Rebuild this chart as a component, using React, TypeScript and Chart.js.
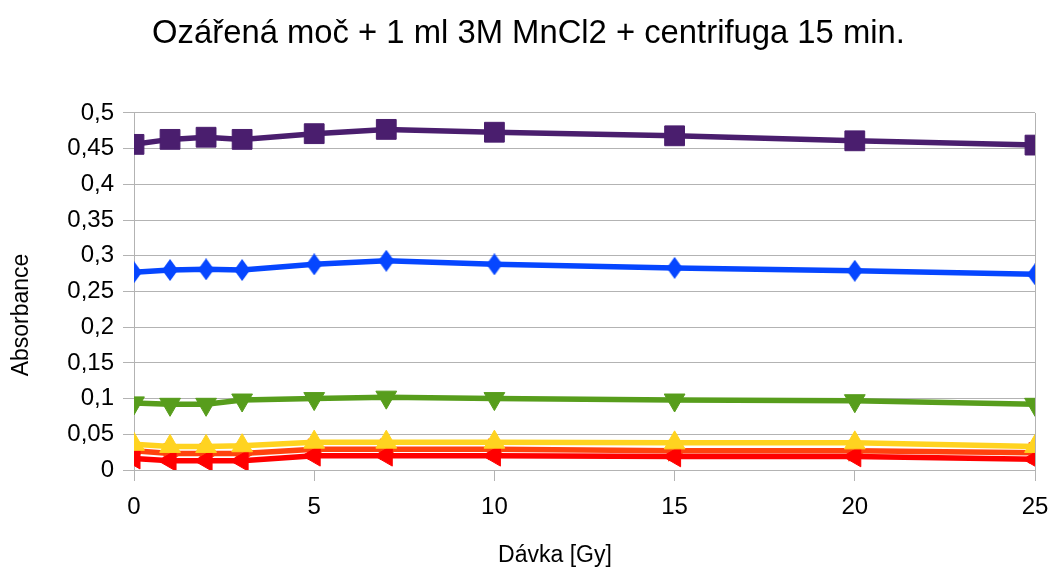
import React, { useEffect, useRef } from 'react';
import { Chart, registerables } from 'chart.js';

Chart.register(...registerables);

// Dose values [Gy]
const doses = [0, 1, 2, 3, 5, 7, 10, 15, 20, 25];

// Absorbance per series
const seriesPurple = [0.456, 0.463, 0.466, 0.463, 0.471, 0.477, 0.473, 0.468, 0.461, 0.455];
const seriesBlue = [0.277, 0.28, 0.281, 0.28, 0.288, 0.293, 0.288, 0.283, 0.279, 0.274];
const seriesGreen = [0.094, 0.092, 0.092, 0.098, 0.1, 0.102, 0.1, 0.098, 0.097, 0.092];
const seriesYellow = [0.036, 0.033, 0.033, 0.034, 0.039, 0.039, 0.039, 0.038, 0.038, 0.033];
const seriesOrange = [0.027, 0.023, 0.023, 0.023, 0.029, 0.029, 0.029, 0.027, 0.027, 0.024];
const seriesRed = [0.016, 0.013, 0.013, 0.013, 0.02, 0.02, 0.02, 0.019, 0.019, 0.015];

const titleText = 'Ozářená moč + 1 ml 3M MnCl2 + centrifuga 15 min.';
const xTitle = 'Dávka [Gy]';
const yTitle = 'Absorbance';

const FONT = "'Liberation Sans', Arial, sans-serif";
const GRID = '#b3b3b3';

function makeDiamond(color: string, w: number, h: number): HTMLCanvasElement {
  const c = document.createElement('canvas');
  c.width = w;
  c.height = h;
  const g = c.getContext('2d')!;
  g.fillStyle = color;
  g.beginPath();
  g.moveTo(w / 2, 0);
  g.lineTo(w, h / 2);
  g.lineTo(w / 2, h);
  g.lineTo(0, h / 2);
  g.closePath();
  g.fill();
  return c;
}

const toPoints = (ys: number[]) => doses.map((x, i) => ({ x, y: ys[i] }));

const fmt = (v: number) => String(Math.round(v * 100) / 100).replace('.', ',');

// Axis captions, placed in the margins around the plot
const axisTitles = {
  id: 'axisTitles',
  afterDraw(chart: any) {
    const { ctx } = chart;
    ctx.save();
    ctx.fillStyle = '#000';
    ctx.font = `23px ${FONT}`;
    ctx.textAlign = 'center';
    ctx.textBaseline = 'middle';
    ctx.fillText(xTitle, 555, 556);
    ctx.translate(22, 315);
    ctx.rotate(-Math.PI / 2);
    ctx.fillText(yTitle, 0, 0);
    ctx.restore();
  },
};

export default function App() {
  const ref = useRef<HTMLCanvasElement | null>(null);

  useEffect(() => {
    if (!ref.current) return;
    const blue = '#0646ff';
    const line = (label: string, ys: number[], color: string, extra: any) => ({
      label,
      data: toPoints(ys),
      borderColor: color,
      backgroundColor: color,
      pointBackgroundColor: color,
      pointBorderColor: color,
      borderWidth: 5.5,
      pointBorderWidth: 1,
      tension: 0,
      ...extra,
    });
    const chart = new Chart(ref.current, {
      type: 'line',
      data: {
        datasets: [
          line('A', seriesPurple, '#4a1e6e', { pointStyle: 'rect', pointRadius: 14, order: 1 }),
          line('B', seriesBlue, blue, { pointStyle: makeDiamond(blue, 16, 22), pointRadius: 11, order: 2 }),
          line('C', seriesGreen, '#579d1c', { pointStyle: 'triangle', pointRotation: 180, pointRadius: 12, order: 3 }),
          line('D', seriesYellow, '#ffd320', { pointStyle: 'triangle', pointRadius: 12, order: 4 }),
          line('E', seriesOrange, '#ff420e', { pointStyle: 'triangle', pointRotation: 90, pointRadius: 12, order: 6 }),
          line('F', seriesRed, '#ff0000', { pointStyle: 'triangle', pointRotation: -90, pointRadius: 12, order: 5 }),
        ],
      },
      plugins: [axisTitles],
      options: {
        responsive: false,
        animation: false,
        layout: { padding: { left: 15, right: 8, top: 0, bottom: 0 } },
        plugins: {
          legend: { display: false },
          tooltip: { enabled: false },
          title: {
            display: true,
            text: titleText,
            color: '#000',
            font: { family: FONT, size: 32.8, weight: 'normal' },
            padding: { top: 14, bottom: 59.6 },
          },
        },
        scales: {
          x: {
            type: 'linear',
            min: 0,
            max: 25,
            afterFit: (s: any) => {
              s.height = 101;
              s.paddingRight = 0;
              s.paddingLeft = 0;
            },
            ticks: {
              stepSize: 5,
              color: '#000',
              padding: 12,
              font: { family: FONT, size: 24 },
              maxRotation: 0,
            },
            grid: {
              color: (c: any) => (c.tick && c.tick.value === 25 ? GRID : 'rgba(0,0,0,0)'),
              tickColor: GRID,
              tickLength: 11,
              lineWidth: 1,
            },
            border: { color: GRID },
          },
          y: {
            min: 0,
            max: 0.5,
            afterFit: (s: any) => {
              s.width = 119;
            },
            ticks: {
              stepSize: 0.05,
              color: '#000',
              padding: 9,
              font: { family: FONT, size: 24 },
              callback: (v: any) => fmt(Number(v)),
            },
            grid: { color: GRID, tickColor: GRID, tickLength: 11, lineWidth: 1 },
            border: { color: GRID },
          },
        },
      },
    } as any);
    return () => chart.destroy();
  }, []);

  return (
    <div style={{ position: 'absolute', left: 0, top: 0, width: 1050, height: 571, background: '#fff' }}>
      <canvas ref={ref} width={1050} height={571} style={{ display: 'block' }} />
    </div>
  );
}
